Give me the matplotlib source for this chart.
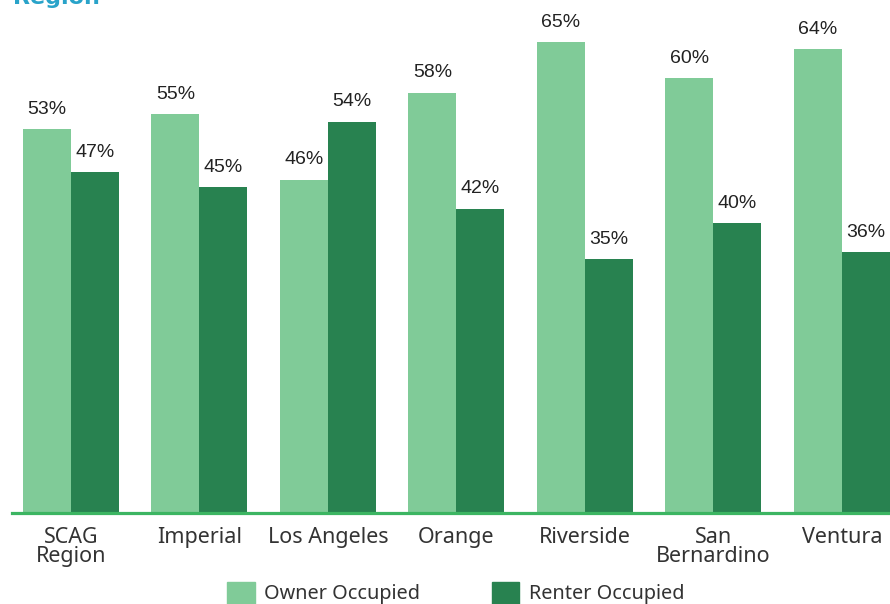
import matplotlib.pyplot as plt
import numpy as np
from matplotlib.patches import Patch

# Housing tenure by county (share of occupied units)
regions = ['SCAG\nRegion', 'Imperial', 'Los Angeles', 'Orange', 'Riverside',
           'San\nBernardino', 'Ventura']
owner = [53, 55, 46, 58, 65, 60, 64]
renter = [47, 45, 54, 42, 35, 40, 36]

OWNER_COLOR = '#80cb98'
RENTER_COLOR = '#288250'
AXIS_COLOR = '#3cb562'
TEXT_COLOR = '#333333'

W, H = 890, 604
fig = plt.figure(figsize=(W / 100, H / 100), dpi=100)

# axes spans from the green baseline up to the top edge
ax_left, ax_right = 12, 890
ax_base = 513
ax = fig.add_axes([ax_left / W, (H - ax_base) / H, (ax_right - ax_left) / W, ax_base / H])

x = np.arange(len(regions))
width = 0.3735
b1 = ax.bar(x - width / 2, owner, width, color=OWNER_COLOR, label='Owner Occupied')
b2 = ax.bar(x + width / 2, renter, width, color=RENTER_COLOR, label='Renter Occupied')

for bars, vals in ((b1, owner), (b2, renter)):
    for bar, v in zip(bars, vals):
        ax.annotate(f'{v}%', xy=(bar.get_x() + bar.get_width() / 2, v),
                    xytext=(0, 8), textcoords='offset points',
                    ha='center', va='bottom', fontsize=14,
                    family='Liberation Sans', color='#222222')

ax.set_xlim(-0.459, 6.374)
ax.set_ylim(0, ax_base / 7.25)

for s in ('top', 'right', 'left'):
    ax.spines[s].set_visible(False)
ax.spines['bottom'].set_color(AXIS_COLOR)
ax.spines['bottom'].set_linewidth(2.3)
ax.set_yticks([])
ax.set_xticks(x)
ax.set_xticklabels(regions, fontsize=15.5, family='Noto Sans', color=TEXT_COLOR,
                   linespacing=0.9)
ax.tick_params(axis='x', length=0, pad=10)

# title sits mostly above the frame; only its last line shows
fig.text(13 / W, 1 - 4 / H, 'Region', fontsize=16, fontweight='bold',
         color='#29a3c9', family='DejaVu Sans', ha='left', va='baseline')

handles = [Patch(color=OWNER_COLOR), Patch(color=RENTER_COLOR)]
fig.legend(handles, ['Owner Occupied', 'Renter Occupied'], loc='center',
           bbox_to_anchor=(456 / W, 11 / H), ncol=2, frameon=False,
           prop={'family': 'Noto Sans', 'size': 14.3}, labelcolor=TEXT_COLOR,
           handlelength=1.37, handleheight=1.37, handletextpad=0.5,
           columnspacing=3.6, borderpad=0)

fig.savefig('out.png', dpi=100)
